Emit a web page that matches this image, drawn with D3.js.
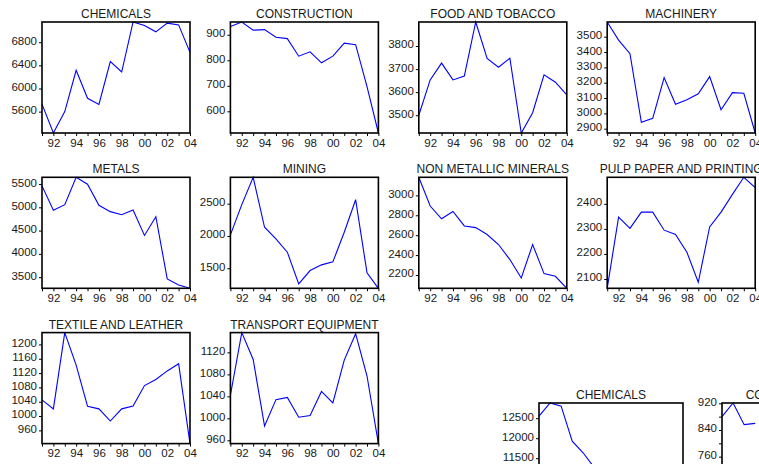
<!DOCTYPE html>
<html><head><meta charset="utf-8">
<script src="https://cdn.jsdelivr.net/npm/d3@7"></script>
<style>
body{margin:0;background:#fff}
svg{display:block}
text{font-family:"Liberation Sans",Arial,sans-serif;fill:#1a1a1a}
</style>
</head><body>
<svg id="chart" width="759" height="464"></svg>
<script>
// ---- data ----
const years = [1991,1992,1993,1994,1995,1996,1997,1998,1999,2000,2001,2002,2003,2004];
const xLabelYears = [1992,1994,1996,1998,2000,2002,2004];

const titles = ["CHEMICALS","CONSTRUCTION","FOOD AND TOBACCO","MACHINERY",
  "METALS","MINING","NON METALLIC MINERALS","PULP PAPER AND PRINTING",
  "TEXTILE AND LEATHER","TRANSPORT EQUIPMENT"];

const chemicals    = [5730,5230,5600,6315,5830,5725,6465,6285,7150,7090,6980,7130,7100,6625];
const construction = [932,950,918,920,890,885,816,833,790,816,867,861,697,515];
const foodTobacco  = [3500,3653,3726,3653,3670,3904,3746,3708,3747,3423,3511,3675,3643,3588];
const machinery    = [3596,3478,3389,2942,2968,3233,3059,3089,3128,3240,3024,3135,3131,2872];
const metals       = [5461,4936,5058,5645,5496,5044,4907,4842,4943,4396,4799,3462,3333,3260];
const mining       = [2016,2485,2909,2135,1954,1749,1257,1464,1552,1598,2057,2562,1428,1189];
const nonMetallic  = [3182,2893,2765,2839,2693,2676,2607,2506,2355,2170,2506,2214,2187,2066];
const pulpPaper    = [2063,2347,2302,2367,2367,2295,2278,2207,2087,2308,2367,2438,2506,2465];
const textile      = [1045,1020,1233,1142,1027,1020,986,1020,1028,1085,1102,1126,1146,923];
const transport    = [1042,1156,1107,986,1034,1038,1002,1005,1049,1028,1106,1154,1077,954];

const chemicalsTicks    = [5600,6000,6400,6800];
const constructionTicks = [600,700,800,900];
const foodTicks         = [3500,3600,3700,3800];
const machineryTicks    = [2900,3000,3100,3200,3300,3400,3500];
const metalsTicks       = [3500,4000,4500,5000,5500];
const miningTicks       = [1500,2000,2500];
const nonMetTicks       = [2200,2400,2600,2800,3000];
const pulpTicks         = [2100,2200,2300,2400];
const textileTicks      = [960,1000,1040,1080,1120,1160,1200];
const transportTicks    = [960,1000,1040,1080,1120];

// second block (partly visible at bottom right)
const titles2 = ["CHEMICALS","CONSTRUCTION"];
const chemicals2Years = [1991,1992,1993,1994,1995,1996];
const chemicals2 = [12550,12880,12800,11925,11630,11260];
const chemicals2Domain = [10105,12880];
const chemicals2Ticks = [11500,12000,12500];
const construction2Years = [1991,1992,1993,1994];
const construction2 = [880,921,856,860];
const construction2Domain = [588,921];
const construction2Ticks = [760,840,920];
const construction2Minor = [640,680,720,800,880];

// ---- drawing ----
const svg = d3.select("#chart");
const FS = 11.5;
const fmt = d3.format("d");

function drawPanel(p){
  const g = svg.append("g");
  const x = d3.scaleLinear().domain([1991,2004]).range([p.left, p.left+p.w]);
  const dom = p.domain || d3.extent(p.values);
  const y = d3.scaleLinear().domain(dom).range([p.top+p.h, p.top]);

  // title
  g.append("text").attr("x", p.left + p.w/2).attr("y", p.top - 4)
    .attr("text-anchor","middle").style("font-size","12px").text(p.title);

  // y axis
  const ya = g.append("g").attr("transform",`translate(${p.left},0)`)
    .call(d3.axisLeft(y).tickValues(p.ticks).tickSize(3).tickPadding(2).tickFormat(fmt));
  ya.select(".domain").remove();
  ya.selectAll("text").style("font-size",FS+"px").attr("dy","0.17em").attr("fill","#1a1a1a");
  ya.selectAll("line").attr("stroke","#000");
  if (p.minor){
    const ym = g.append("g").attr("transform",`translate(${p.left},0)`)
      .call(d3.axisLeft(y).tickValues(p.minor).tickSize(3).tickFormat(""));
    ym.select(".domain").remove();
    ym.selectAll("line").attr("stroke","#000");
  }

  // x axis
  if (p.xaxis !== false){
    const xa = g.append("g").attr("transform",`translate(0,${p.top+p.h})`)
      .call(d3.axisBottom(x).tickValues(years).tickSize(3).tickPadding(2.5)
        .tickFormat(d => xLabelYears.includes(d) ? String(d%100).padStart(2,"0") : ""));
    xa.select(".domain").remove();
    xa.selectAll("text").style("font-size",FS+"px").attr("fill","#1a1a1a");
    xa.selectAll("line").attr("stroke","#000");
  }

  // line
  const line = d3.line().x((d,i)=>x(p.years[i])).y(d=>y(d));
  g.append("path").datum(p.values).attr("d",line)
    .attr("fill","none").attr("stroke","#0000ff").attr("stroke-width",1.1)
    .attr("stroke-linejoin","miter");

  // frame
  g.append("rect").attr("x",p.left).attr("y",p.top).attr("width",p.w).attr("height",p.h)
    .attr("fill","none").attr("stroke","#000").attr("stroke-width",1.6);
}

const seriesList = [chemicals,construction,foodTobacco,machinery,metals,mining,nonMetallic,pulpPaper,textile,transport];
const tickList = [chemicalsTicks,constructionTicks,foodTicks,machineryTicks,metalsTicks,miningTicks,nonMetTicks,pulpTicks,textileTicks,transportTicks];

seriesList.forEach((vals,i)=>{
  const col = i%4, row = Math.floor(i/4);
  drawPanel({
    title: titles[i], values: vals, years: years, ticks: tickList[i],
    left: 42 + col*188.4, top: 22 + row*155.3, w: 148, h: 111
  });
});

drawPanel({title:titles2[0], values:chemicals2, years:chemicals2Years, domain:chemicals2Domain,
  ticks:chemicals2Ticks, left:539, top:403, w:144, h:111, xaxis:false});
drawPanel({title:titles2[1], values:construction2, years:construction2Years, domain:construction2Domain,
  ticks:construction2Ticks, minor:construction2Minor, left:722, top:403, w:144, h:111, xaxis:false});
</script>
</body></html>
